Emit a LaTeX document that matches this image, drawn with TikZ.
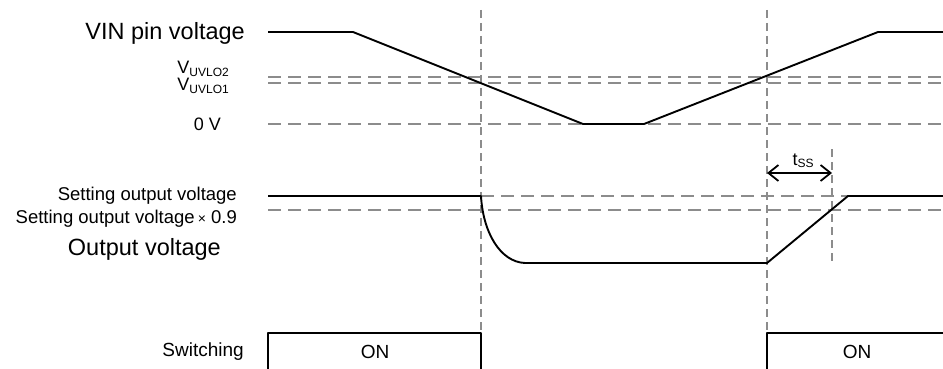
\documentclass[tikz,border=0pt]{standalone}
\usepackage{fontspec}
\setmainfont{Liberation Sans}
\usepackage{tikz}
\usetikzlibrary{arrows.meta,positioning}

\newcommand{\fs}[1]{\fontsize{#1}{#1}\selectfont}
\newcommand{\subtxt}[1]{{\fs{12}\raisebox{-2.5pt}{#1}}}

\tikzset{
  guide/.style={draw=black!45, line width=1.8pt, dash pattern=on 13pt off 7pt},
  vguide/.style={draw=black!45, line width=1.8pt, dash pattern=on 8pt off 5pt},
  signal/.style={draw=black, line width=1.9pt, line join=round},
  lbl/.style={inner sep=0pt, font=\fs{18.5}},
  biglbl/.style={inner sep=0pt, font=\fs{23.5}},
}

\begin{document}
\begin{tikzpicture}[x=1pt, y=-1pt]
\useasboundingbox (0,0) rectangle (943,369);

% time marks
\draw[vguide] (481,10) -- (481,333);
\draw[vguide] (767,10) -- (767,333);
\draw[vguide] (832,149) -- (832,263);

% levels
\draw[guide] (268,77) -- (943,77);
\draw[guide] (268,83) -- (943,83);
\draw[guide] (268,124) -- (943,124);
\draw[guide] (481,196) -- (943,196);
\draw[guide] (268,210) -- (943,210);

% VIN pin voltage
\draw[signal] (268,32) -- (353,32) -- (583,124) -- (644,124) -- (878,32) -- (943,32);

% output voltage
\draw[signal] (268,196) -- (481,196) .. controls (483,232) and (500,262) .. (525,263)
  -- (767,263) -- (848,196) -- (943,196);

% soft-start time
\coordinate (ss0) at (767,173);
\coordinate (ss1) at (832,173);
\draw[line width=1.8pt, {Straight Barb[length=10pt,width=16pt]}-{Straight Barb[length=10pt,width=16pt]}] (ss0) -- (ss1);
\node[inner sep=0pt, font=\fs{18}, anchor=base] (tss) at (803,165) {t\subtxt{SS}};

% switching
\draw[signal] (268,369) -- (268,333) -- (481,333) -- (481,369);
\draw[signal] (767,369) -- (767,333) -- (943,333);
\node[inner sep=0pt, font=\fs{19}] (on1) at (375,352) {ON};
\node[inner sep=0pt, font=\fs{19}] (on2) at (857,352) {ON};

% labels
\node[biglbl, anchor=east] (vin) at (245,33) {VIN pin voltage};
\node[inner sep=0pt, font=\fs{18}, anchor=base east] (uvlo2) at (229,74) {V\subtxt{UVLO2}};
\node[inner sep=0pt, font=\fs{18}, anchor=base east] (uvlo1) at (229,91) {V\subtxt{UVLO1}};
\node[inner sep=0pt, font=\fs{18}, anchor=east] (zero) at (221,124) {0 V};
\node[lbl, anchor=east] (vset) at (237,196) {Setting output voltage};
\node[lbl, anchor=east] (vset9) at (237,219) {Setting output voltage\,{\fs{14}×} 0.9};
\node[biglbl, anchor=east] (vout) at (221,249) {Output voltage};
\node[inner sep=0pt, font=\fs{19}, anchor=east] (sw) at (244,352) {Switching};

\end{tikzpicture}
\end{document}
